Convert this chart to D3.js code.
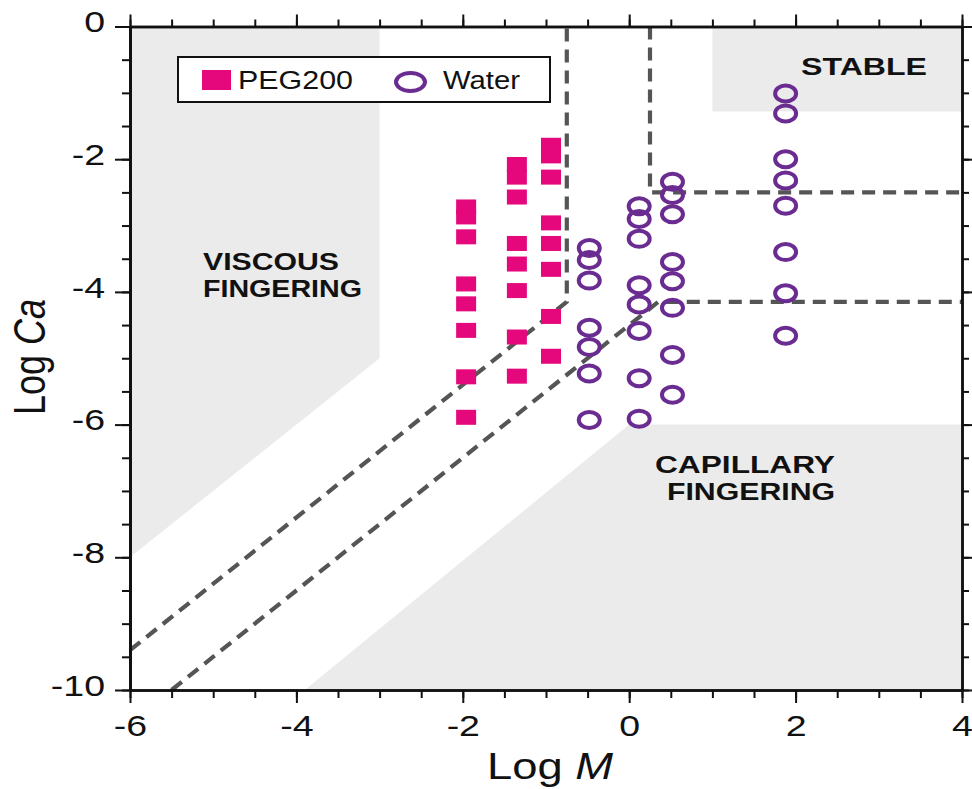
<!DOCTYPE html>
<html>
<head>
<meta charset="utf-8">
<script src="https://cdn.jsdelivr.net/npm/d3@7"></script>
<style>
  body { margin: 0; background: #fff; }
  svg { display: block; font-family: "Liberation Sans", Arial, Helvetica, sans-serif; }
</style>
</head>
<body>
<svg id="graphic" width="972" height="789"></svg>
<script>
// series
const seriesNames = ['PEG200', 'Water'];

// PEG200 points (log M, log Ca)
const pegLogM = [
  -1.96, -1.96, -1.96, -1.96, -1.96, -1.96, -1.96, -1.96,
  -1.35, -1.35, -1.35, -1.35, -1.35, -1.35, -1.35, -1.35,
  -0.94, -0.94, -0.94, -0.94, -0.94, -0.94, -0.94, -0.94,
];
const pegLogCa = [
  -2.72, -2.87, -3.17, -3.88, -4.18, -4.58, -5.28, -5.89,
  -2.08, -2.27, -2.57, -3.27, -3.58, -3.98, -4.68, -5.27,
  -1.79, -1.95, -2.27, -2.96, -3.27, -3.66, -4.37, -4.97,
];

// Water points
const waterLogM = [
  -0.48, -0.48, -0.48, -0.48, -0.48, -0.48, -0.48,
  0.12, 0.12, 0.12, 0.12, 0.12, 0.12, 0.12, 0.12,
  0.52, 0.52, 0.52, 0.52, 0.52, 0.52, 0.52, 0.52,
  1.88, 1.88, 1.88, 1.88, 1.88, 1.88, 1.88, 1.88,
];
const waterLogCa = [
  -3.34, -3.52, -3.83, -4.54, -4.83, -5.23, -5.93,
  -2.71, -2.90, -3.20, -3.90, -4.19, -4.59, -5.30, -5.91,
  -2.34, -2.54, -2.83, -3.55, -3.84, -4.24, -4.95, -5.55,
  -1.01, -1.31, -2.00, -2.32, -2.70, -3.40, -4.02, -4.66,
];

// regime regions [log M, log Ca]
const viscousRegion = [[-6, 0], [-3, 0], [-3, -5], [-6, -8]];
const stableRegion = [[1, 0], [4, 0], [4, -1.28], [1, -1.28]];
const capillaryRegion = [[0, -6], [4, -6], [4, -10], [-3.9, -10]];

// dashed boundaries
const upperBoundary = [[-6, -9.4], [-0.75, -4.15], [-0.75, 0]];
const lowerBoundary = [[-5.5, -10], [0.35, -4.15], [4, -4.15]];
const stableBoundary = [[0.25, 0], [0.25, -2.5], [4, -2.5]];

// ticks
const xMajorTicks = [-6, -4, -2, 0, 2, 4];
const yMajorTicks = [0, -2, -4, -6, -8, -10];
const xMinorTicks = d3.range(-6, 4.01, 0.5);
const yMinorTicks = d3.range(0, -10.01, -0.5);

const svg = d3.select('#graphic');

const x = d3.scaleLinear().domain([-6, 4]).range([130, 962]);
const y = d3.scaleLinear().domain([0, -10]).range([26.5, 690]);

const line = d3.line().x((d) => x(d[0])).y((d) => y(d[1]));

// widen text horizontally (the source picture is stretched)
function stretch(sel, k) {
  sel.each(function() {
    const w = this.getComputedTextLength();
    d3.select(this).attr('textLength', w * k).attr('lengthAdjust', 'spacingAndGlyphs');
  });
}
function fitWidth(sel, w) {
  sel.attr('textLength', w).attr('lengthAdjust', 'spacingAndGlyphs');
}

// gray regions
svg.selectAll('.region')
    .data([viscousRegion, stableRegion, capillaryRegion])
    .enter()
    .append('path')
    .classed('region', true)
    .attr('d', (d) => line(d) + 'Z')
    .attr('fill', '#ebebeb');

// dashed lines
svg.selectAll('.boundary')
    .data([upperBoundary, lowerBoundary, stableBoundary])
    .enter()
    .append('path')
    .classed('boundary', true)
    .attr('d', line)
    .attr('fill', 'none')
    .attr('stroke', '#555')
    .attr('stroke-width', 4.2)
    .attr('stroke-dasharray', '13,8');

// region labels
const labels = [
  {t: 'VISCOUS', x: 203, y: 270, w: 136},
  {t: 'FINGERING', x: 203, y: 297, w: 159},
  {t: 'STABLE', x: 801, y: 75, w: 126},
  {t: 'CAPILLARY', x: 655, y: 473, w: 180},
  {t: 'FINGERING', x: 667, y: 500, w: 168},
];
svg.selectAll('.region-label')
    .data(labels)
    .enter()
    .append('text')
    .classed('region-label', true)
    .attr('x', (d) => d.x)
    .attr('y', (d) => d.y)
    .attr('font-size', 24)
    .attr('font-weight', 'bold')
    .attr('fill', '#111')
    .attr('textLength', (d) => d.w)
    .attr('lengthAdjust', 'spacingAndGlyphs')
    .text((d) => d.t);

// points
const peg = pegLogM.map((m, i) => ({m, ca: pegLogCa[i]}));
const water = waterLogM.map((m, i) => ({m, ca: waterLogCa[i]}));

svg.selectAll('.peg')
    .data(peg)
    .enter()
    .append('rect')
    .classed('peg', true)
    .attr('x', (d) => x(d.m) - 10)
    .attr('y', (d) => y(d.ca) - 7.5)
    .attr('width', 20)
    .attr('height', 15)
    .attr('fill', '#e5087d');

svg.selectAll('.water')
    .data(water)
    .enter()
    .append('ellipse')
    .classed('water', true)
    .attr('cx', (d) => x(d.m))
    .attr('cy', (d) => y(d.ca))
    .attr('rx', 10.5)
    .attr('ry', 8)
    .attr('fill', 'none')
    .attr('stroke', '#6a2c91')
    .attr('stroke-width', 4);

// legend
const legend = svg.append('g');
legend.append('rect')
    .attr('x', 178).attr('y', 57)
    .attr('width', 372).attr('height', 45)
    .attr('fill', '#fff')
    .attr('stroke', '#111')
    .attr('stroke-width', 2);
legend.append('rect')
    .attr('x', 202).attr('y', 70)
    .attr('width', 29).attr('height', 20)
    .attr('fill', '#e5087d');
legend.append('ellipse')
    .attr('cx', 410.5).attr('cy', 82)
    .attr('rx', 14.5).attr('ry', 9)
    .attr('fill', 'none')
    .attr('stroke', '#6a2c91')
    .attr('stroke-width', 4);
legend.append('text')
    .attr('x', 238).attr('y', 89)
    .attr('font-size', 25)
    .attr('fill', '#111')
    .text(seriesNames[0])
    .call(fitWidth, 115);
legend.append('text')
    .attr('x', 443).attr('y', 89)
    .attr('font-size', 25)
    .attr('fill', '#111')
    .text(seriesNames[1])
    .call(fitWidth, 77);

// axes
function styleAxis(g) {
  g.select('.domain').attr('stroke', '#111').attr('stroke-width', 2.5);
  g.selectAll('.tick line').attr('stroke', '#111').attr('stroke-width', 2);
}

svg.append('g')
    .attr('transform', `translate(0,${y(-10)})`)
    .call(d3.axisBottom(x).tickValues(xMinorTicks).tickSize(8).tickSizeOuter(0).tickFormat(''))
    .call(styleAxis);
const xAxisG = svg.append('g')
    .attr('transform', `translate(0,${y(-10)})`)
    .call(d3.axisBottom(x).tickValues(xMajorTicks).tickSize(13).tickSizeOuter(0).tickPadding(12))
    .call(styleAxis);

svg.append('g')
    .attr('transform', `translate(0,${y(0)})`)
    .call(d3.axisTop(x).tickValues(xMinorTicks).tickSize(7).tickSizeOuter(0).tickFormat(''))
    .call(styleAxis);
svg.append('g')
    .attr('transform', `translate(0,${y(0)})`)
    .call(d3.axisTop(x).tickValues(xMajorTicks).tickSize(12).tickSizeOuter(0).tickFormat(''))
    .call(styleAxis);

svg.append('g')
    .attr('transform', `translate(${x(-6)},0)`)
    .call(d3.axisLeft(y).tickValues(yMinorTicks).tickSize(8).tickSizeOuter(0).tickFormat(''))
    .call(styleAxis);
const yAxisG = svg.append('g')
    .attr('transform', `translate(${x(-6)},0)`)
    .call(d3.axisLeft(y).tickValues(yMajorTicks).tickSize(15).tickSizeOuter(0).tickPadding(10))
    .call(styleAxis);
yAxisG.select('.domain').attr('stroke-width', 3);

svg.append('g')
    .attr('transform', `translate(${x(4)},0)`)
    .call(d3.axisRight(y).tickValues(yMinorTicks).tickSize(7).tickSizeOuter(0).tickFormat(''))
    .call(styleAxis);
svg.append('g')
    .attr('transform', `translate(${x(4)},0)`)
    .call(d3.axisRight(y).tickValues(yMajorTicks).tickSize(10).tickSizeOuter(0).tickFormat(''))
    .call(styleAxis);

[xAxisG, yAxisG].forEach((g) => {
  g.selectAll('.tick text')
      .attr('font-size', 30)
      .attr('font-family', '"Liberation Sans", Arial, sans-serif')
      .attr('fill', '#111')
      .text((d) => d === 0 ? '0' : d3.format('d')(d).replace('−', '-'));
});
yAxisG.selectAll('.tick text').attr('dy', '0.17em');
xAxisG.selectAll('.tick text').call(stretch, 1.25);
yAxisG.selectAll('.tick text').call(stretch, 1.25);

// axis titles
const xTitle = svg.append('text')
    .attr('x', 487).attr('y', 779)
    .attr('font-size', 37)
    .attr('fill', '#111');
xTitle.append('tspan').text('Log ');
xTitle.append('tspan').attr('font-style', 'italic').text('M');
xTitle.call(fitWidth, 126);

const yTitle = svg.append('text')
    .attr('transform', 'translate(45,357) rotate(-90) scale(1,1.25)')
    .attr('text-anchor', 'middle')
    .attr('font-size', 36)
    .attr('fill', '#111');
yTitle.append('tspan').text('Log ');
yTitle.append('tspan').attr('font-style', 'italic').text('Ca');
</script>
</body>
</html>
